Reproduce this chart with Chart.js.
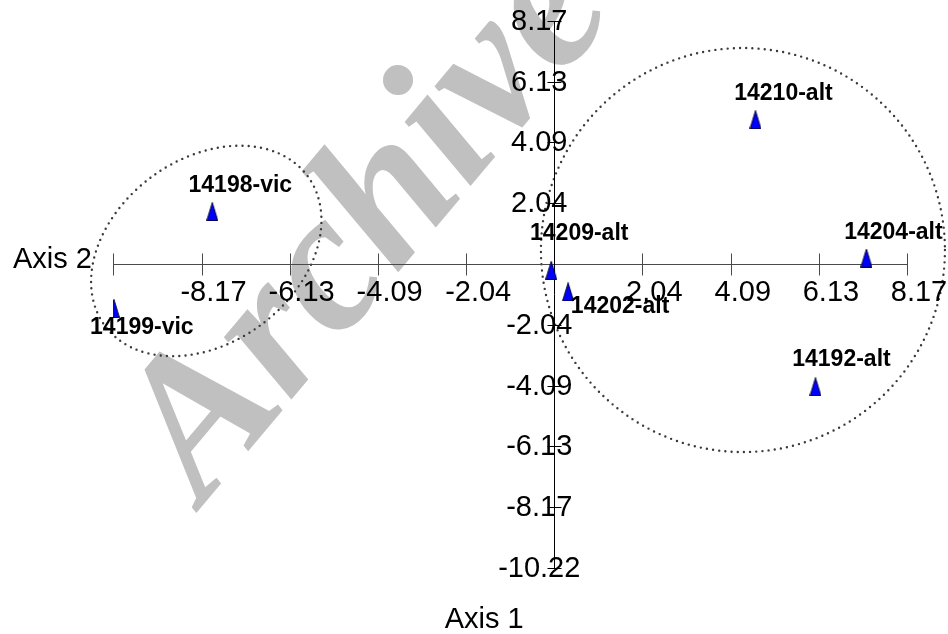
<!DOCTYPE html>
<html>
<head>
<meta charset="utf-8">
<script src="https://cdn.jsdelivr.net/npm/chart.js@4.4.1/dist/chart.umd.min.js"></script>
<style>
  html, body { margin: 0; padding: 0; background: #ffffff; }
  #wrap { width: 948px; height: 634px; }
</style>
</head>
<body>
<div id="wrap"><canvas id="ord" width="948" height="634"></canvas></div>
<script>
// Sample scores on the two ordination axes
const sampleNames = ['14210-alt', '14204-alt', '14209-alt', '14202-alt', '14198-vic', '14199-vic', '14192-alt'];
const xScores = [4.66, 7.23, -0.07, 0.32, -7.92, -10.20, 6.05];
const yScores = [4.85, 0.20, -0.21, -0.94, 1.76, -1.49, -4.13];

// Axis ranges and tick labels
const xRange = [-10.22, 8.17];
const yRange = [-10.22, 8.17];
const xTickValues = [-10.22, -8.17, -6.13, -4.09, -2.04, 2.04, 4.09, 6.13, 8.17];
const xTickLabels = ['', '-8.17', '-6.13', '-4.09', '-2.04', '2.04', '4.09', '6.13', '8.17'];
const yTickValues = [8.17, 6.13, 4.09, 2.04, -2.04, -4.09, -6.13, -8.17, -10.22];
const yTickLabels = ['8.17', '6.13', '4.09', '2.04', '-2.04', '-4.09', '-6.13', '-8.17', '-10.22'];

// Group outlines (centres in axis units)
const groupCentreX = [-8.06, 4.37];
const groupCentreY = [0.44, 0.47];

// Drawing styles (pixels)
const labelOffsets = [[28, -26], [27, -25], [28, -37], [52, 15], [28, -26], [28, 19], [26, -27]];
const groupShapes = [
  { rx: 126, ry: 92, rot: -36.4 },
  { rx: 202, ry: 202, rot: 0 }
];

const TICK_FONT = '29px "Liberation Sans", Arial, sans-serif';
const LABEL_FONT = 'bold 23px "Liberation Sans", Arial, sans-serif';

function makeTriangle() {
  const c = document.createElement('canvas');
  c.width = 12; c.height = 19;
  const g = c.getContext('2d');
  g.beginPath();
  g.moveTo(6, 0.5);
  g.lineTo(11.5, 18.5);
  g.lineTo(0.5, 18.5);
  g.closePath();
  g.fillStyle = '#0000ff';
  g.fill();
  g.strokeStyle = '#000033';
  g.lineWidth = 1;
  g.stroke();
  return c;
}

const watermark = {
  id: 'watermark',
  beforeDatasetsDraw(chart) {
    const ctx = chart.ctx;
    ctx.save();
    ctx.translate(203, 505);
    ctx.rotate(-50 * Math.PI / 180);
    ctx.font = 'italic bold 200px "Liberation Serif", "Times New Roman", serif';
    ctx.fillStyle = '#c0c0c0';
    ctx.textBaseline = 'alphabetic';
    ctx.fillText('Archive', 0, 0);
    ctx.restore();
  }
};

const crossAxes = {
  id: 'crossAxes',
  beforeDatasetsDraw(chart) {
    const ctx = chart.ctx;
    const xs = chart.scales.x, ys = chart.scales.y;
    const x0 = Math.round(xs.getPixelForValue(0)) + 0.5;
    const y0 = Math.round(ys.getPixelForValue(0)) + 0.5;

    // dotted group outlines
    ctx.save();
    ctx.strokeStyle = '#3a3a3a';
    ctx.lineWidth = 2.4;
    ctx.lineCap = 'round';
    ctx.setLineDash([0, 6.2]);
    groupCentreX.forEach((cx, i) => {
      const s = groupShapes[i];
      ctx.beginPath();
      ctx.ellipse(xs.getPixelForValue(cx), ys.getPixelForValue(groupCentreY[i]),
        s.rx, s.ry, s.rot * Math.PI / 180, 0, Math.PI * 2);
      ctx.stroke();
    });
    ctx.restore();

    ctx.save();
    ctx.lineWidth = 1;
    // horizontal axis
    ctx.strokeStyle = '#4a4a4a';
    ctx.beginPath();
    ctx.moveTo(xs.getPixelForValue(xRange[0]), y0);
    ctx.lineTo(xs.getPixelForValue(xRange[1]), y0);
    xTickValues.forEach(v => {
      const px = Math.round(xs.getPixelForValue(v)) + 0.5;
      ctx.moveTo(px, y0 - 11);
      ctx.lineTo(px, y0 + 11);
    });
    ctx.stroke();
    // vertical axis
    ctx.strokeStyle = '#000000';
    ctx.beginPath();
    ctx.moveTo(x0, ys.getPixelForValue(yRange[1]));
    ctx.lineTo(x0, ys.getPixelForValue(yRange[0]));
    yTickValues.forEach(v => {
      const py = Math.round(ys.getPixelForValue(v)) + 0.5;
      ctx.moveTo(x0 - 7, py);
      ctx.lineTo(x0 + 7, py);
    });
    ctx.stroke();
    ctx.restore();
  },
  afterDatasetsDraw(chart) {
    const ctx = chart.ctx;
    const xs = chart.scales.x, ys = chart.scales.y;
    const x0 = xs.getPixelForValue(0);
    const y0 = ys.getPixelForValue(0);
    ctx.save();
    ctx.fillStyle = '#000000';
    ctx.font = TICK_FONT;
    ctx.textAlign = 'center';
    ctx.textBaseline = 'middle';
    xTickValues.forEach((v, i) => {
      ctx.fillText(xTickLabels[i], xs.getPixelForValue(v) + 12, y0 + 29);
    });
    yTickValues.forEach((v, i) => {
      ctx.fillText(yTickLabels[i], x0 - 15, ys.getPixelForValue(v) + 1);
    });
    // axis titles
    ctx.textBaseline = 'alphabetic';
    ctx.textAlign = 'right';
    ctx.fillText('Axis 2', xs.left - 21, y0 + 4);
    ctx.textAlign = 'center';
    ctx.fillText('Axis 1', x0 - 70, ys.bottom + 60);

    // sample labels
    ctx.font = LABEL_FONT;
    ctx.textBaseline = 'middle';
    const meta = chart.getDatasetMeta(0);
    meta.data.forEach((pt, i) => {
      ctx.fillText(sampleNames[i], pt.x + labelOffsets[i][0], pt.y + labelOffsets[i][1]);
    });
    ctx.restore();
  }
};

const tri = makeTriangle();

new Chart(document.getElementById('ord'), {
  type: 'scatter',
  data: {
    datasets: [{
      data: sampleNames.map((n, i) => ({ x: xScores[i], y: yScores[i] })),
      pointStyle: tri,
      pointRadius: 6,
      pointHoverRadius: 6
    }]
  },
  options: {
    responsive: false,
    animation: false,
    devicePixelRatio: 1,
    events: [],
    layout: { padding: { left: 113, right: 41, top: 21, bottom: 66 } },
    scales: {
      x: { type: 'linear', min: xRange[0], max: xRange[1], display: false },
      y: { type: 'linear', min: yRange[0], max: yRange[1], display: false }
    },
    plugins: {
      legend: { display: false },
      tooltip: { enabled: false }
    }
  },
  plugins: [watermark, crossAxes]
});
</script>
</body>
</html>
